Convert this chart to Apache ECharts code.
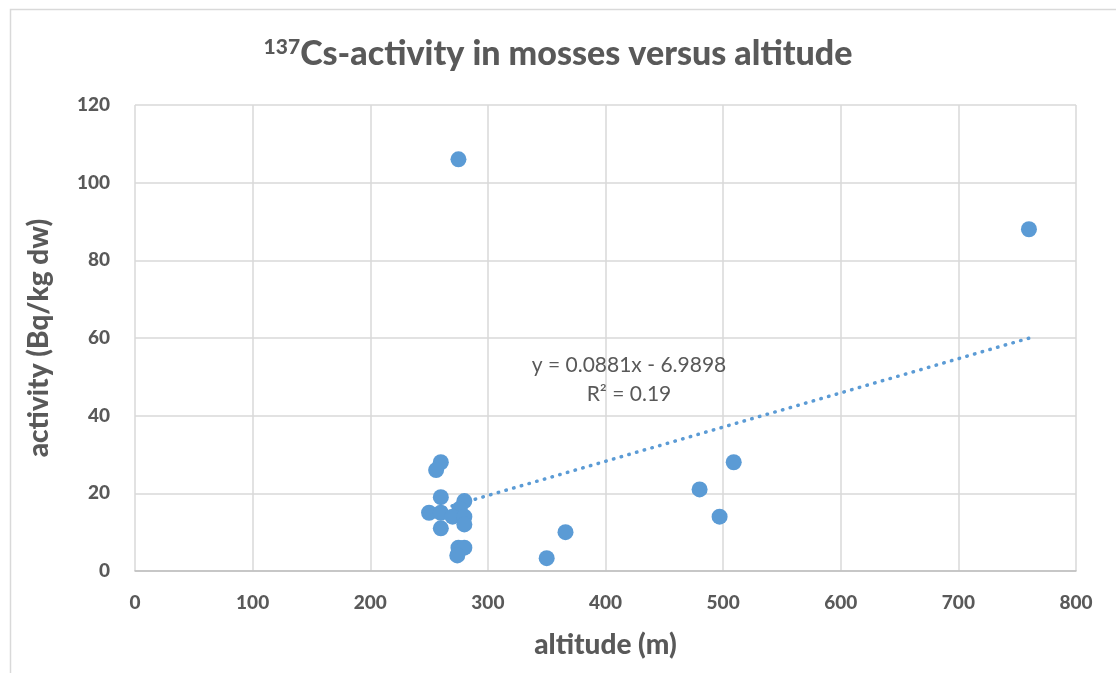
<!DOCTYPE html>
<html>
<head>
<meta charset="utf-8">
<script src="https://cdn.jsdelivr.net/npm/echarts@6/dist/echarts.min.js"></script>
<style>
html,body{margin:0;padding:0;background:#fff;}
#chart{width:1116px;height:673px;}
</style>
</head>
<body>
<div id="chart"></div>
<script>
// altitude (m)
const altitude = [275, 760, 260, 256, 260, 280, 276, 250, 260, 270, 280, 280, 260, 275, 280, 274, 350, 366, 480, 509, 497];
// 137Cs activity (Bq/kg dw)
const activity = [106, 88, 28, 26, 19, 18, 16, 15, 15, 14, 14, 12, 11, 6, 6, 4, 3.3, 10, 21, 28, 14];
// trendline from the equation shown on the chart
const trendSlope = 0.0881;
const trendIntercept = -6.9898;
const trendLabel = ['y = 0.0881x - 6.9898', 'R² = 0.19'];
const xTicks = [0, 100, 200, 300, 400, 500, 600, 700, 800];
const yTicks = [0, 20, 40, 60, 80, 100, 120];

const pts = altitude.map((a, i) => [a, activity[i]]);
const xMin = Math.min(...altitude), xMax = Math.max(...altitude);
const trend = [[xMin, trendSlope * xMin + trendIntercept], [xMax, trendSlope * xMax + trendIntercept]];

const FONT = 'Lato, "Open Sans", sans-serif';
const GREY = '#595959';
const W = 900;
const chart = echarts.init(document.getElementById('chart'), null, {renderer: 'canvas'});
chart.setOption({
  backgroundColor: '#fff',
  animation: false,
  title: {
    text: '{sup|137}{main|Cs-activity in mosses versus altitude}',
    left: 'center',
    top: 32,
    textStyle: {
      rich: {
        sup: {fontFamily: FONT, fontWeight: W, fontSize: 21, color: GREY, verticalAlign: 'top', padding: [0, 0, 14, 0]},
        main: {fontFamily: FONT, fontWeight: W, fontSize: 34, color: GREY}
      }
    }
  },
  grid: {left: 135, right: 40, top: 105, bottom: 102, containLabel: false},
  xAxis: {
    type: 'value', min: xTicks[0], max: xTicks[xTicks.length - 1], interval: 100,
    name: 'altitude (m)', nameLocation: 'middle', nameGap: 60,
    nameTextStyle: {fontFamily: FONT, fontWeight: W, fontSize: 28, color: GREY},
    axisLine: {show: true, lineStyle: {color: '#bfbfbf', width: 1.5}},
    axisTick: {show: false},
    axisLabel: {fontFamily: FONT, fontWeight: W, fontSize: 19, color: GREY, margin: 22},
    splitLine: {show: true, lineStyle: {color: '#d9d9d9', width: 1.5}}
  },
  yAxis: {
    type: 'value', min: yTicks[0], max: yTicks[yTicks.length - 1], interval: 20,
    name: 'activity (Bq/kg dw)', nameLocation: 'middle', nameGap: 82, nameRotate: 90,
    nameTextStyle: {fontFamily: FONT, fontWeight: W, fontSize: 28, color: GREY},
    axisLine: {show: false},
    axisTick: {show: false},
    axisLabel: {fontFamily: FONT, fontWeight: W, fontSize: 19, color: GREY, margin: 25},
    splitLine: {show: true, lineStyle: {color: '#d9d9d9', width: 1.5}}
  },
  graphic: [
    {type: 'rect', left: 8, top: 7, shape: {width: 1140, height: 700}, style: {fill: 'none', stroke: '#d9d9d9', lineWidth: 1.5}, silent: true, z: -1},
    {type: 'text', x: 629, y: 365, style: {text: trendLabel[0], font: '21px ' + FONT, fill: GREY, align: 'center', verticalAlign: 'middle'}, z: 10},
    {type: 'text', x: 629, y: 394, style: {text: trendLabel[1], font: '21px ' + FONT, fill: GREY, align: 'center', verticalAlign: 'middle'}, z: 10}
  ],
  series: [
    {
      type: 'line', data: trend, showSymbol: false, symbol: 'none',
      lineStyle: {color: '#5b9bd5', width: 3.5, type: [0.5, 7.5], cap: 'round'},
      z: 1, silent: true
    },
    {
      type: 'scatter', data: pts, symbol: 'circle', symbolSize: 16,
      itemStyle: {color: '#5b9bd5', opacity: 1}, z: 3
    }
  ]
});
</script>
</body>
</html>
